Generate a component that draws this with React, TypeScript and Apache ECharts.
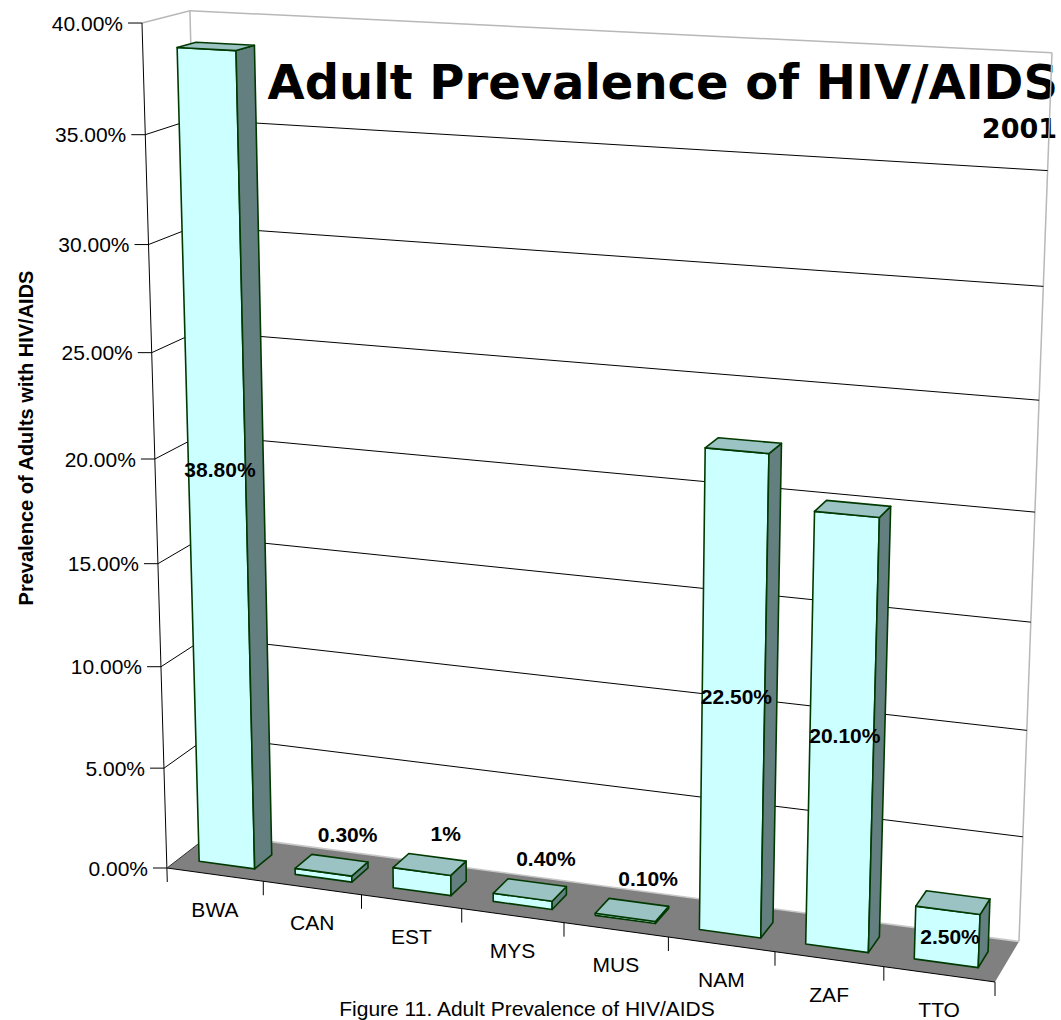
import React, { useEffect, useRef } from "react";
import * as echarts from "echarts";

// ---------- data ----------
const categories = ["BWA", "CAN", "EST", "MYS", "MUS", "NAM", "ZAF", "TTO"];
const prevalence = [38.8, 0.3, 1, 0.4, 0.1, 22.5, 20.1, 2.5];
const valueLabels = ["38.80%", "0.30%", "1%", "0.40%", "0.10%", "22.50%", "20.10%", "2.50%"];
const yTicks = [0, 5, 10, 15, 20, 25, 30, 35, 40];
const yTickLabels = ["0.00%", "5.00%", "10.00%", "15.00%", "20.00%", "25.00%", "30.00%", "35.00%", "40.00%"];
const chartTitle = "Adult Prevalence of HIV/AIDS";
const chartSubtitle = "2001";
const yAxisTitle = "Prevalence of Adults with HIV/AIDS";
const caption = "Figure 11. Adult Prevalence of HIV/AIDS";

// ---------- perspective projection of the unit box (u: along categories, v: value, w: depth) ----------
function project(u: number, v: number, w: number): [number, number] {
  const d = 1 - 0.0789 * u - 0.0619 * v + 0.0276 * w;
  return [
    (167 + 749.5 * u - 33.8 * v + 50.2 * w) / d,
    (868 + 36.5 * u - 846.4 * v - 11.3 * w) / d,
  ];
}

const FONT = '"Liberation Sans", Arial, Helvetica, sans-serif';
const W0 = 0.27;
const W1 = 0.67;
const EDGE = "#003a00";

function uvOf(params: any, pt: number[]): [number, number] {
  const cs = params.coordSys;
  return [(pt[0] - cs.x) / cs.width, (cs.y + cs.height - pt[1]) / cs.height];
}

function line(a: number[], b: number[], stroke: string, lineWidth = 1) {
  return {
    type: "line",
    shape: { x1: a[0], y1: a[1], x2: b[0], y2: b[1] },
    style: { stroke, lineWidth },
    silent: true,
  };
}

export default function App() {
  const ref = useRef<HTMLDivElement>(null);

  useEffect(() => {
    if (!ref.current) return;
    const chart = echarts.init(ref.current, undefined, { renderer: "svg" });

    const option: any = {
      animation: false,
      backgroundColor: "#ffffff",
      grid: { left: 0, right: 0, top: 0, bottom: 0 },
      xAxis: { type: "category", data: categories, show: false },
      yAxis: { type: "value", min: 0, max: 40, interval: 5, show: false },
      graphic: [
        {
          type: "text",
          right: 3,
          top: 58,
          style: {
            text: chartTitle,
            font: 'bold 48px "DejaVu Sans", Verdana, sans-serif',
            fill: "#000",
          },
        },
        {
          type: "text",
          right: 4,
          top: 115,
          style: {
            text: chartSubtitle,
            font: 'bold 27px "DejaVu Sans", Verdana, sans-serif',
            fill: "#000",
          },
        },
        {
          type: "text",
          x: 527,
          y: 1008,
          style: {
            text: caption,
            font: `21px ${FONT}`,
            fill: "#000",
            align: "center",
            verticalAlign: "middle",
          },
        },
        {
          type: "text",
          x: 26,
          y: 438,
          rotation: Math.PI / 2,
          style: {
            text: yAxisTitle,
            font: `bold 20px ${FONT}`,
            fill: "#000",
            align: "center",
            verticalAlign: "middle",
          },
        },
      ],
      series: [
        // floor, walls and axis lines
        {
          type: "custom",
          z: 1,
          silent: true,
          data: [[0, 0]],
          renderItem: (params: any, api: any) => {
            const lo = uvOf(params, api.coord([0, 0]));
            const hi = uvOf(params, api.coord([0, 40]));
            const v0 = lo[1];
            const v1 = hi[1];
            const f00 = project(0, v0, 0);
            const f10 = project(1, v0, 0);
            const b10 = project(1, v0, 1);
            const b00 = project(0, v0, 1);
            const f01 = project(0, v1, 0);
            const b01 = project(0, v1, 1);
            const b11 = project(1, v1, 1);
            const wall = "#b8b8b8";
            return {
              type: "group",
              children: [
                {
                  type: "polygon",
                  shape: { points: [f00, f10, b10, b00] },
                  style: { fill: "#808080" },
                },
                line(b00, b10, "#c8c8c8", 1.5),
                line(f01, b01, wall, 1.5),
                line(b01, b11, wall, 1.5),
                line(b11, b10, wall, 1.5),
                line(b01, b00, wall, 1.5),
                line(f00, f10, "#000", 1),
                line(f01, [f00[0] + 0.3, f00[1] + 14], "#000", 1),
              ],
            };
          },
        },
        // value gridlines, ticks and labels
        {
          type: "custom",
          z: 2,
          silent: true,
          data: yTicks.map((t, i) => [0, t, i]),
          renderItem: (params: any, api: any) => {
            const val = api.value(1);
            const idx = api.value(2);
            const v = uvOf(params, api.coord([0, val]))[1];
            const f = project(0, v, 0);
            const b = project(0, v, 1);
            const r = project(1, v, 1);
            const children: any[] = [];
            if (val > 0 && val < 40) {
              children.push({
                type: "polyline",
                shape: { points: [f, b, r] },
                style: { stroke: "#000", lineWidth: 1, fill: null },
              });
            } else if (val === 0) {
              children.push(line(f, b, "#333", 1));
            }
            children.push(line([f[0] - 14, f[1]], f, "#000", 1));
            children.push({
              type: "text",
              x: f[0] - 19,
              y: f[1],
              style: {
                text: yTickLabels[idx],
                font: `21px ${FONT}`,
                fill: "#000",
                align: "right",
                verticalAlign: "middle",
              },
            });
            return { type: "group", children };
          },
        },
        // bars (3D boxes) with data labels
        {
          type: "custom",
          z: 3,
          silent: true,
          data: prevalence.map((p, i) => [i, p]),
          renderItem: (params: any, api: any) => {
            const i = api.value(0);
            const val = api.value(1);
            const top = api.coord([i, val]);
            const base = api.coord([i, 0]);
            const bw = api.size([1, 0])[0];
            const [uc, v] = uvOf(params, top);
            const vb = uvOf(params, base)[1];
            const half = (0.29 * bw) / params.coordSys.width;
            const u0 = uc - half;
            const u1 = uc + half;
            const fbl = project(u0, vb, W0);
            const fbr = project(u1, vb, W0);
            const ftl = project(u0, v, W0);
            const ftr = project(u1, v, W0);
            const bbr = project(u1, vb, W1);
            const btr = project(u1, v, W1);
            const btl = project(u0, v, W1);
            const edge = { stroke: EDGE, lineWidth: 1.6, lineJoin: "round" };
            let lx: number;
            let ly: number;
            if (val >= 2) {
              const c = project(uc, vb + (v - vb) / 2, W0);
              lx = c[0] + 3;
              ly = c[1];
            } else {
              const c = project(uc, v, (W0 + W1) / 2);
              lx = c[0] + 16;
              ly = c[1] - 31;
            }
            return {
              type: "group",
              children: [
                {
                  type: "polygon",
                  shape: { points: [fbl, fbr, ftr, ftl] },
                  style: { fill: "#ccffff", ...edge },
                },
                {
                  type: "polygon",
                  shape: { points: [fbr, bbr, btr, ftr] },
                  style: { fill: "#637f7f", ...edge },
                },
                {
                  type: "polygon",
                  shape: { points: [ftl, ftr, btr, btl] },
                  style: { fill: "#9cc3c3", ...edge },
                },
                {
                  type: "text",
                  x: lx,
                  y: ly,
                  z2: 10,
                  style: {
                    text: valueLabels[i],
                    font: `bold 21px ${FONT}`,
                    fill: "#000",
                    align: "center",
                    verticalAlign: "middle",
                  },
                },
              ],
            };
          },
        },
        // category ticks and labels
        {
          type: "custom",
          z: 3,
          silent: true,
          data: categories.map((c, i) => [i, 0]),
          renderItem: (params: any, api: any) => {
            const i = api.value(0);
            const p = api.coord([i, 0]);
            const bw = api.size([1, 0])[0];
            const [uc, v0] = uvOf(params, p);
            const half = bw / 2 / params.coordSys.width;
            const children: any[] = [];
            const rightEdge = project(uc + half, v0, 0);
            children.push(line(rightEdge, [rightEdge[0], rightEdge[1] + 14], "#000", 1));
            const c = project(uc, v0, 0);
            children.push({
              type: "text",
              x: c[0],
              y: c[1] + 35,
              style: {
                text: categories[i],
                font: `21px ${FONT}`,
                fill: "#000",
                align: "center",
                verticalAlign: "middle",
              },
            });
            return { type: "group", children };
          },
        },
      ],
    };

    chart.setOption(option);
    return () => chart.dispose();
  }, []);

  return (
    <div
      ref={ref}
      style={{ position: "fixed", left: 0, top: 0, width: 1061, height: 1020, background: "#fff" }}
    />
  );
}
